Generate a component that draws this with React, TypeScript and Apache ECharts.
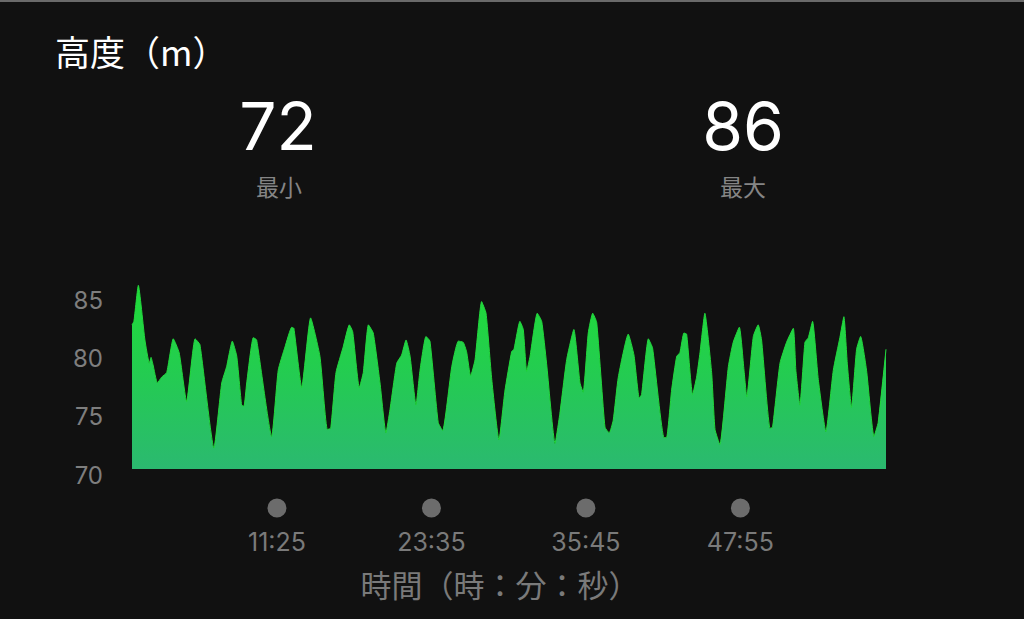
import React, { useEffect, useRef } from "react";
import * as echarts from "echarts";

// elapsed seconds
const TIMES = [
  0, 9, 30, 61, 82, 90, 99, 120, 140, 164, 195, 223, 258, 298, 321, 387, 424,
  447, 474, 495, 518, 529, 542, 573, 589, 660, 691, 723, 755, 765, 802, 844,
  888, 923, 939, 964, 998, 1027, 1043, 1074, 1093, 1117, 1140, 1172, 1200,
  1219, 1251, 1274, 1295, 1314, 1342, 1361, 1389, 1408, 1447, 1468, 1511,
  1542, 1565, 1581, 1600, 1621, 1652, 1673, 1700, 1734, 1762, 1794, 1805,
  1833, 1849, 1865, 1881, 1915, 1936, 1959, 1999, 2022, 2054, 2088, 2117,
  2132, 2156, 2177, 2196, 2235, 2255, 2274, 2298, 2345, 2372, 2397, 2408,
  2440, 2460, 2514, 2526, 2550, 2574, 2589, 2608, 2621, 2649, 2668, 2684,
  2707, 2739, 2755, 2778, 2818, 2841, 2870, 2892, 2905, 2936, 2959, 2975,
  3015, 3027, 3062, 3093, 3125, 3137, 3156, 3180, 3196, 3216, 3243, 3279,
  3314, 3345, 3364, 3380, 3400, 3424, 3443, 3471, 3506, 3526, 3563,
];

// altitude (m)
const ALTITUDES = [
  82.4, 82.7, 85.8, 81.1, 79.1, 79.6, 79.0, 77.4, 77.9, 78.3, 81.2, 80.0, 75.8,
  81.2, 80.7, 71.8, 77.4, 78.8, 81.0, 79.7, 75.5, 75.4, 77.4, 81.3, 81.1, 72.8,
  78.5, 80.5, 82.2, 82.1, 77.0, 83.0, 79.7, 73.4, 73.5, 78.3, 80.5, 82.4, 81.8,
  77.0, 78.3, 82.4, 81.7, 77.4, 73.1, 75.1, 79.1, 79.8, 81.1, 79.7, 75.5, 78.5,
  81.4, 81.0, 74.0, 73.3, 78.8, 81.0, 80.9, 80.1, 78.0, 79.4, 84.4, 83.4, 77.7,
  72.5, 76.7, 80.1, 80.3, 82.7, 82.0, 78.4, 79.7, 83.4, 82.7, 79.1, 72.2, 74.8,
  79.4, 82.0, 77.4, 76.6, 81.7, 83.4, 82.6, 73.6, 73.1, 74.2, 77.9, 81.6, 79.8,
  76.1, 76.4, 81.2, 80.4, 72.7, 72.7, 76.8, 79.7, 80.0, 81.7, 81.6, 76.4, 77.9,
  80.0, 83.4, 78.3, 73.4, 72.1, 78.8, 80.9, 82.2, 78.5, 76.2, 81.4, 82.4, 81.1,
  73.5, 73.6, 79.1, 80.9, 82.1, 78.5, 75.5, 80.9, 81.3, 82.7, 77.7, 73.2, 78.5,
  81.3, 83.1, 79.1, 75.3, 80.3, 81.4, 78.5, 72.8, 74.0, 80.3,
];

const Y_TICKS = [70, 75, 80, 85];
const X_TICKS = [685, 1415, 2145, 2875];

const MIN_LABEL = "72";
const MAX_LABEL = "86";

const JP = '"Noto Sans CJK JP", sans-serif';
const NUM = 'Inter, "Noto Sans CJK JP", sans-serif';

const fmtTime = (s: number) => {
  const m = Math.floor(s / 60);
  const sec = s % 60;
  return `${m}:${sec < 10 ? "0" : ""}${sec}`;
};

const bigText = (x: number, y: number, text: string) => ({
  type: "text",
  x,
  y,
  style: {
    text,
    fill: "#ffffff",
    fontSize: 66,
    lineHeight: 50,
    fontFamily: "Inter, sans-serif",
    align: "center",
    verticalAlign: "middle",
  },
});

const smallText = (x: number, y: number, text: string) => ({
  type: "text",
  x,
  y,
  style: {
    text,
    fill: "#858585",
    fontSize: 23,
    lineHeight: 24,
    fontFamily: JP,
    align: "center",
    verticalAlign: "middle",
  },
});

const App: React.FC = () => {
  const chartRef = useRef<HTMLDivElement | null>(null);

  useEffect(() => {
    if (!chartRef.current) return;
    const chart = echarts.init(chartRef.current, null, { renderer: "svg" });

    const options: any = {
      animation: false,
      backgroundColor: "#111111",
      grid: { left: 132, right: 138, top: 283, bottom: 150 },
      xAxis: {
        type: "value",
        min: 0,
        max: TIMES[TIMES.length - 1],
        axisLine: { show: false },
        axisTick: { show: false },
        splitLine: { show: false },
        axisLabel: {
          customValues: X_TICKS,
          margin: 28,
          formatter: (v: number) => `{d|}\n{t|${fmtTime(v)}}`,
          rich: {
            d: {
              width: 19,
              height: 19,
              borderRadius: 10,
              backgroundColor: "#6c6c6c",
              lineHeight: 22,
            },
            t: {
              fontSize: 25,
              fontFamily: NUM,
              color: "#7a7a7a",
              lineHeight: 46,
            },
          },
        },
      },
      yAxis: {
        type: "value",
        min: 70,
        max: 86,
        axisLine: { show: false },
        axisTick: { show: false },
        splitLine: { show: false },
        axisLabel: {
          customValues: Y_TICKS,
          margin: 29,
          formatter: (v: number) => `{v|${v}}`,
          rich: {
            v: {
              fontSize: 24,
              fontFamily: NUM,
              color: "#7e7e7e",
              padding: [12, 0, 0, 0],
            },
          },
        },
      },
      series: [
        {
          type: "line",
          data: TIMES.map((t, i) => [t, ALTITUDES[i]]),
          showSymbol: false,
          smooth: 0.15,
          lineStyle: { width: 1, color: "#22d83c" },
          areaStyle: {
            origin: "start",
            opacity: 1,
            color: new echarts.graphic.LinearGradient(0, 0, 0, 1, [
              { offset: 0, color: "#1fdc38" },
              { offset: 0.5, color: "#24cb52" },
              { offset: 1, color: "#2bb970" },
            ]),
          },
        },
      ],
      graphic: [
        {
          type: "rect",
          shape: { x: 0, y: 0, width: 1024, height: 2 },
          style: { fill: "#6a6a6a" },
        },
        {
          type: "text",
          x: 55,
          y: 50,
          style: {
            text: "高度（m）",
            fill: "#ffffff",
            fontSize: 35,
            fontFamily: JP,
            align: "left",
            verticalAlign: "middle",
          },
        },
        bigText(278, 126, MIN_LABEL),
        smallText(279, 186, "最小"),
        bigText(743, 126, MAX_LABEL),
        smallText(743, 186, "最大"),
        {
          type: "text",
          x: 500,
          y: 583,
          style: {
            text: "時間（時：分：秒）",
            fill: "#7a7a7a",
            fontSize: 31,
            fontFamily: JP,
            align: "center",
            verticalAlign: "middle",
          },
        },
      ],
    };

    chart.setOption(options);
    return () => chart.dispose();
  }, []);

  return (
    <div
      ref={chartRef}
      style={{
        position: "fixed",
        left: 0,
        top: 0,
        width: "1024px",
        height: "619px",
        background: "#111111",
      }}
    />
  );
};

export default App;
